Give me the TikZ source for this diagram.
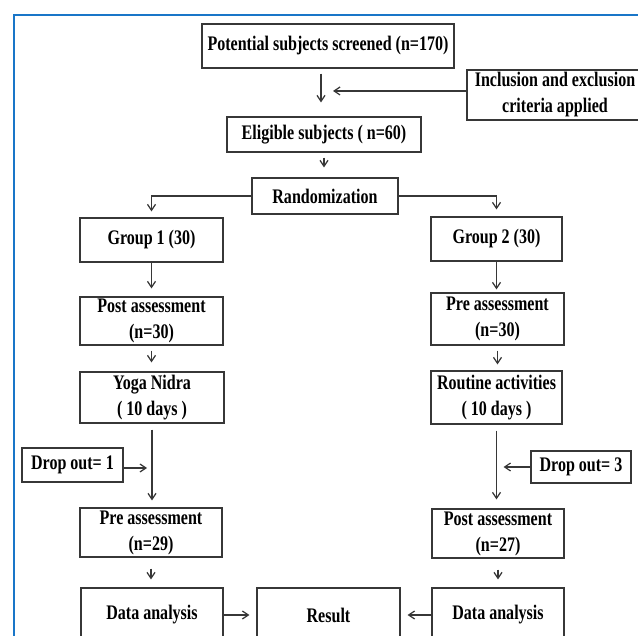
\documentclass[tikz,border=0pt]{standalone}
\usepackage{fontspec}
\setmainfont{Liberation Serif}[FakeStretch=0.775]
\usetikzlibrary{arrows.meta}
\definecolor{frameblue}{RGB}{25,118,200}
\definecolor{linegray}{RGB}{55,55,55}

\begin{document}
\begin{tikzpicture}[x=1pt, y=-1pt,
  box/.style={draw=linegray, line width=1.2pt, inner sep=0pt, align=center,
    font=\fontsize{20.7}{26}\selectfont\bfseries},
  arr/.style={draw=linegray, line width=1.2pt, -{Straight Barb[length=6pt,width=8pt]}}]
  \useasboundingbox (0,0) rectangle (638,636);
  \clip (0,0) rectangle (638,636);
  % frame
  \draw[frameblue, line width=2pt] (14,660) -- (14,14.7) -- (660,14.7);
  % boxes (top)
  \node[box, minimum width=252pt, minimum height=44pt] (scr) at (328,46) {Potential subjects screened (n=170)};
  \node[box, minimum width=176pt, minimum height=50pt] (incl) at (555,95) {Inclusion and exclusion\\criteria applied};
  \node[box, minimum width=194pt, minimum height=35pt] (elig) at (324,134.5) {Eligible subjects ( n=60)};
  \node[box, minimum width=146pt, minimum height=36pt] (rand) at (325,196) {Randomization};
  % boxes (group 1)
  \node[box, minimum width=143pt, minimum height=44pt] (g1) at (151.5,240) {Group 1 (30)};
  \node[box, minimum width=143pt, minimum height=48pt] (post1) at (151.5,321) {Post assessment\\(n=30)};
  \node[box, minimum width=144pt, minimum height=51pt] (yoga) at (152,397.5) {Yoga Nidra\\( 10 days )};
  \node[box, minimum width=101pt, minimum height=34pt] (drop1) at (72.5,465) {Drop out= 1};
  \node[box, minimum width=142pt, minimum height=49pt] (pre1) at (151,532.5) {Pre assessment\\(n=29)};
  \node[box, minimum width=142pt, minimum height=54pt] (da1) at (152,615) {Data analysis};
  % boxes (group 2)
  \node[box, minimum width=131pt, minimum height=44pt] (g2) at (496.5,239) {Group 2 (30)};
  \node[box, minimum width=133pt, minimum height=52pt] (pre2) at (497.5,319) {Pre assessment\\(n=30)};
  \node[box, minimum width=131pt, minimum height=53pt] (rout) at (496.5,397.5) {Routine activities\\( 10 days )};
  \node[box, minimum width=100pt, minimum height=32pt] (drop3) at (581,467) {Drop out= 3};
  \node[box, minimum width=132pt, minimum height=49pt] (post2) at (498,533.5) {Post assessment\\(n=27)};
  \node[box, minimum width=132pt, minimum height=54pt] (da2) at (498,615) {Data analysis};
  % result
  \node[box, minimum width=143pt, minimum height=54pt] (res) at (328.5,615) {Result};
  % arrows (top)
  \coordinate (gate) at (321,91);
  \draw[arr, shorten <=5pt, shorten >=14pt] (gate |- scr.south) -- (gate |- elig.north);
  \draw[arr, shorten >=12pt] (incl.west |- gate) -- (gate);
  \draw[arr, shorten <=5pt, shorten >=10pt] (elig.south) -- (elig.south |- rand.north);
  \draw[arr, shorten >=6pt] (rand.west) -| (g1.north);
  \draw[arr, shorten >=7pt] (rand.east) -| (g2.north);
  % arrows (group 1)
  \draw[arr, shorten >=8pt] (g1.south) -- (g1.south |- post1.north);
  \draw[arr, shorten <=5pt, shorten >=9pt] (post1.south) -- (post1.south |- yoga.north);
  \draw[arr, shorten <=6pt, shorten >=7pt] (yoga.south) -- (yoga.south |- pre1.north);
  \coordinate (join1) at (152,468);
  \draw[arr, shorten >=5pt] (drop1.east |- join1) -- (join1);
  \draw[arr, shorten <=11pt, shorten >=8pt] (pre1.south) -- (pre1.south |- da1.north);
  \draw[arr, shorten >=7pt] (da1) -- (res);
  % arrows (group 2)
  \draw[arr, shorten >=3pt] (g2.south) -- (g2.south |- pre2.north);
  \draw[arr, shorten <=5pt, shorten >=6pt] (pre2.south) -- (pre2.south |- rout.north);
  \draw[arr, shorten <=6pt, shorten >=9pt] (rout.south) -- (rout.south |- post2.north);
  \coordinate (join3) at (496.5,467);
  \draw[arr, shorten >=7pt] (drop3.west) -- (join3);
  \draw[arr, shorten <=11pt, shorten >=8pt] (post2.south) -- (post2.south |- da2.north);
  \draw[arr, shorten >=7pt] (da2) -- (res);
\end{tikzpicture}
\end{document}
